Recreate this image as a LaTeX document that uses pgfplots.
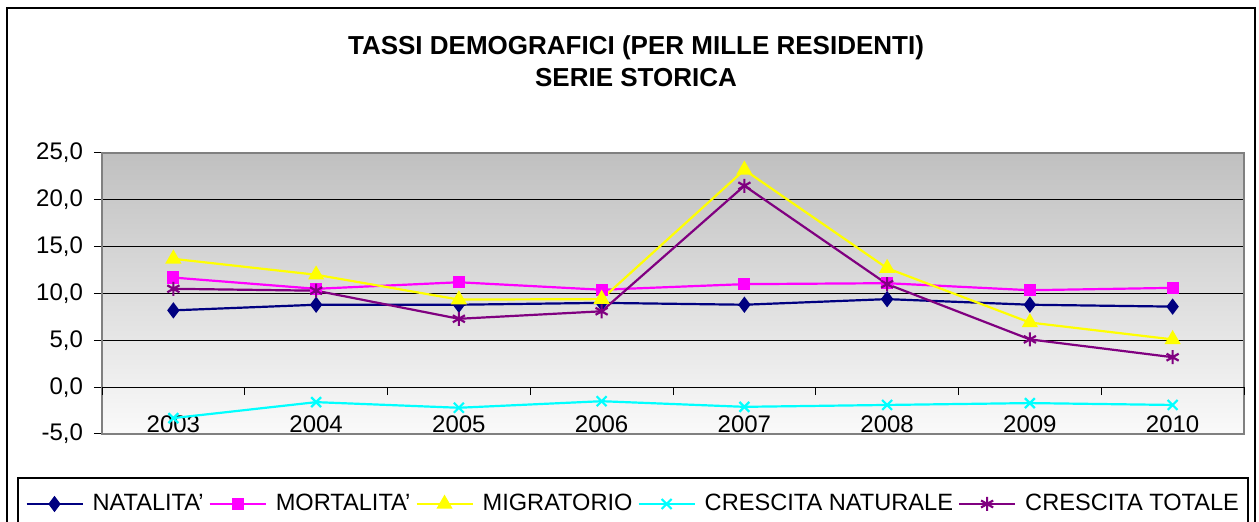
\documentclass[border=0pt]{standalone}
\usepackage{fontspec}
\setmainfont{Liberation Sans}
\usepackage{pgfplots}
\pgfplotsset{compat=1.18}
\definecolor{nat}{RGB}{0,0,128}
\definecolor{mor}{RGB}{255,0,255}
\definecolor{mig}{RGB}{255,255,0}
\definecolor{cn}{RGB}{0,255,255}
\definecolor{ct}{RGB}{128,0,128}
\definecolor{bgtop}{RGB}{192,192,192}
\definecolor{framegray}{RGB}{128,128,128}
\begin{document}
\begin{tikzpicture}
\useasboundingbox (0,0) rectangle (629.5pt,-261pt);
\clip (0,0) rectangle (629.5pt,-261pt);
\fill[white] (0,0) rectangle (629.5pt,-261pt);
\draw[line width=1pt] (3.5pt,-4pt) rectangle (627.5pt,-280pt);
\node[font=\fontsize{13}{16}\selectfont\bfseries, align=center] at (318pt,-30.5pt) {TASSI DEMOGRAFICI (PER MILLE RESIDENTI)\\SERIE STORICA};
\draw[line width=0.75pt] (9pt,-239pt) rectangle (624pt,-280pt);
\begin{axis}[at={(51pt,-217pt)}, anchor=south west, scale only axis,
  width=571pt, height=140.5pt,
  xmin=-0.5, xmax=7.5, ymin=-5, ymax=25,
  xtick=\empty, ytick={-5,0,...,25},
  ytick pos=left, tick align=outside, major tick length=4pt,
  ymajorgrids, grid style={black, line width=0.5pt},
  axis line style={framegray, line width=0.75pt},
  y tick style={black, line width=0.5pt},
  axis background/.style={top color=bgtop, bottom color=white!98!black},
  yticklabel style={font=\fontsize{12}{14}\selectfont, xshift=-2pt,
    /pgf/number format/.cd, fixed, fixed zerofill, precision=1, use comma, assume math mode=true},
]
\end{axis}
\begin{axis}[at={(51pt,-217pt)}, anchor=south west, scale only axis,
  width=571pt, height=140.5pt,
  xmin=-0.5, xmax=7.5, ymin=-5, ymax=25,
  axis x line=middle, axis y line=none, ytick=\empty,
  hide obscured x ticks=false,
  xtick={-0.5,0.5,...,7.5}, xticklabels={},
  major tick length=4pt, tick align=outside,
  x tick style={black, line width=0.5pt},
  extra x ticks={0,1,2,3,4,5,6,7},
  extra x tick labels={2003,2004,2005,2006,2007,2008,2009,2010},
  extra x tick style={major tick length=0pt, tick style={draw=none},
    xticklabel style={font=\fontsize{12}{14}\selectfont, anchor=center, yshift=-18.5pt}},
  x axis line style={black, line width=0.5pt, -},
  clip=false,
  legend columns=5,
  legend style={at={(axis description cs:0,0)}, anchor=west, xshift=-38.5pt, yshift=-35pt,
    draw=none, fill=none, inner sep=0pt, font=\fontsize{11.8}{14}\selectfont,
    nodes={inner sep=1pt},
    /tikz/every even column/.append style={column sep=1.5pt},
    /tikz/every odd column/.append style={column sep=3.5pt}},
  legend image code/.code={\draw[mark repeat=2, mark phase=2, #1] plot coordinates {(0pt,0pt) (14pt,0pt) (28pt,0pt)};},
  every axis plot/.append style={line width=1.1pt},
]
\addplot[nat, mark=diamond*, mark size=3.2pt, mark options={solid}] coordinates {(0,8.2) (1,8.8) (2,8.8) (3,9.0) (4,8.8) (5,9.4) (6,8.8) (7,8.6)};
\addlegendentry{NATALITA'}
\addplot[mor, mark=square*, mark size=2.5pt] coordinates {(0,11.7) (1,10.5) (2,11.2) (3,10.4) (4,11.0) (5,11.1) (6,10.35) (7,10.6)};
\addlegendentry{MORTALITA'}
\addplot[mig, mark=triangle*, mark size=3.6pt] coordinates {(0,13.7) (1,12.0) (2,9.35) (3,9.4) (4,23.2) (5,12.7) (6,6.9) (7,5.1)};
\addlegendentry{MIGRATORIO}
\addplot[cn, mark=x, mark size=3.5pt] coordinates {(0,-3.3) (1,-1.6) (2,-2.2) (3,-1.5) (4,-2.1) (5,-1.9) (6,-1.7) (7,-1.9)};
\addlegendentry{CRESCITA NATURALE}
\addplot[ct, mark=asterisk, mark size=3.5pt] coordinates {(0,10.5) (1,10.3) (2,7.3) (3,8.1) (4,21.5) (5,11.0) (6,5.1) (7,3.2)};
\addlegendentry{CRESCITA TOTALE}
\end{axis}
\end{tikzpicture}
\end{document}
